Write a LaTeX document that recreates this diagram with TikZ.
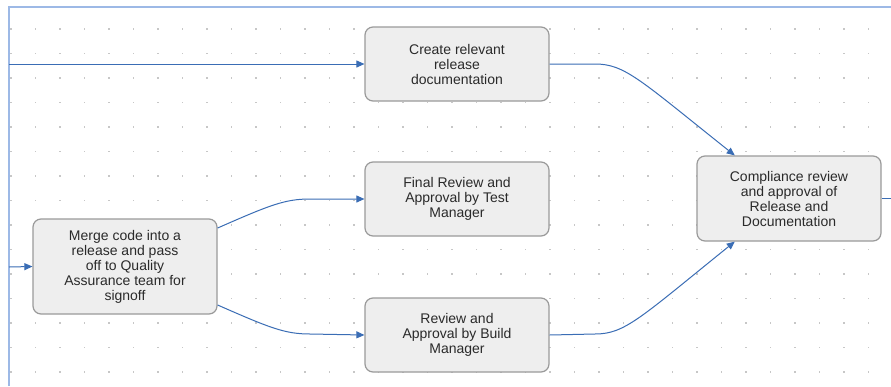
\documentclass[tikz,border=0pt]{standalone}
\usepackage{fontspec}
\setmainfont{Liberation Sans}
\usetikzlibrary{arrows.meta,calc}
\definecolor{conn}{HTML}{3A6DB5}
\definecolor{frame}{HTML}{9DB9E6}
\definecolor{boxfill}{HTML}{EEEEEE}
\definecolor{boxdraw}{HTML}{9A9A9A}
\definecolor{txt}{HTML}{2A2A2A}
\tikzset{
  procbox/.style={draw=boxdraw, line width=1.2pt, fill=boxfill, rounded corners=8pt,
    minimum width=184pt, align=center, text=txt, inner sep=0pt,
    font=\fontsize{14}{15}\selectfont},
  conn/.style={draw=conn, line width=1pt, -{Triangle[length=8pt,width=7pt]}},
  plain/.style={draw=conn, line width=1pt},
  framel/.style={draw=frame, line width=1.2pt},
  griddot/.style={fill=black!22}
}
\begin{document}
\begin{tikzpicture}[x=1pt,y=-1pt]
\fill[white] (0,0) rectangle (891,386);
\useasboundingbox (0,0) rectangle (891,386);
% grid dots
\foreach \i in {0,...,36} {
  \foreach \j in {0,...,14} {
    \fill[griddot] ({11+24.5*\i-0.6},{29+24.5*\j-0.6}) rectangle ++(1.2,1.2);
  }
}
% frame
\draw[framel] (9,386) -- (9,7) -- (891,7);
\coordinate (in1) at (9,64);
\coordinate (in2) at (9,267);
\coordinate (out) at (891,198.5);
% nodes
\node[procbox, minimum height=74pt] (create) at (457,64) {Create relevant\\release\\documentation};
\node[procbox, minimum height=74pt] (final) at (457,199) {Final Review and\\Approval by Test\\Manager};
\node[procbox, minimum height=74pt] (build) at (457,335) {Review and\\Approval by Build\\Manager};
\node[procbox, minimum height=95pt] (merge) at (125,266.5) {Merge code into a\\release and pass\\off to Quality\\Assurance team for\\signoff};
\node[procbox, minimum height=85pt] (comp) at (789,198.5) {Compliance review\\and approval of\\Release and\\Documentation};
% connectors
\draw[conn] (in1) -- (create.west);
\draw[conn] (in2) -- (merge.west);
\draw[conn] ($(merge.north east)!0.1!(merge.south east)$) .. controls (270,205) and (285,199) .. (310,199) -- (final.west);
\draw[conn] ($(merge.north east)!0.9!(merge.south east)$) .. controls (270,328) and (285,334) .. (310,334) -- (build.west);
\draw[conn] (create.east) -- (595,64) .. controls (625,64) and (640,80) .. ($(comp.north west)!0.207!(comp.north east)$);
\draw[conn] (build.east) -- (595,334) .. controls (625,334) and (640,318) .. ($(comp.south west)!0.207!(comp.south east)$);
\draw[plain] (comp.east) -- (out);
\end{tikzpicture}
\end{document}
